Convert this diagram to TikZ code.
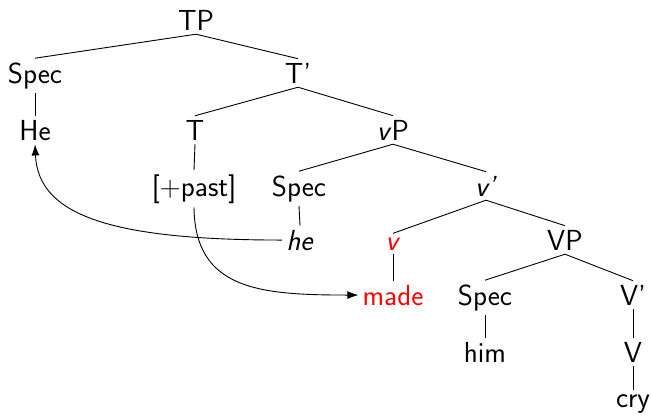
\documentclass[tikz,border=0pt]{standalone}
\usepackage{fontspec}
\usetikzlibrary{arrows.meta}
\begin{document}
\begin{tikzpicture}[x=1pt,y=-1pt,
  every node/.style={font=\fontsize{29}{34}\selectfont\sffamily, inner sep=4pt, anchor=base},
  branch/.style={line width=0.9pt},
  move/.style={line width=0.9pt, -{Latex[length=11pt,width=8pt]}},
  moved/.style={text=red}]
\useasboundingbox (0,0) rectangle (651,416);

% tree nodes, placed on their baselines
\node (TP)    at (196,30)  {TP};
\node (SpecA) at (35,83)   {Spec};
\node (Tbar)  at (298,83)  {T'};
\node (He)    at (35,140)  {He};
\node (T)     at (195,140) {T};
\node (vP)    at (393,140) {\textit{v}P};
\node (past)  at (194,196) {[+past]};
\node (SpecB) at (299,196) {Spec};
\node (vbar)  at (486,196) {\textit{v'}};
\node (he)    at (300,250) {\textit{he}};
\node[moved] (v) at (393,250) {\textit{v}};
\node (VP)    at (565,250) {VP};
\node[moved] (made) at (393,305) {made};
\node (SpecC) at (485,305) {Spec};
\node (Vbar)  at (633,305) {V'};
\node (him)   at (485,362) {him};
\node (V)     at (633,362) {V};
\node (cry)   at (633,407) {cry};

% branches
\draw[branch] (TP.south) -- (SpecA.north);
\draw[branch] (TP.south) -- (Tbar.north);
\draw[branch] (SpecA.south) -- (He.north);
\draw[branch] (Tbar.south) -- (T.north);
\draw[branch] (Tbar.south) -- (vP.north);
\draw[branch] (T.south) -- (past.north);
\draw[branch] (vP.south) -- (SpecB.north);
\draw[branch] (vP.south) -- (vbar.north);
\draw[branch] (SpecB.south) -- (he.north);
\draw[branch] (vbar.south) -- (v.north);
\draw[branch] (vbar.south) -- (VP.north);
\draw[branch] (v.south) -- (made.north);
\draw[branch] (VP.south) -- (SpecC.north);
\draw[branch] (VP.south) -- (Vbar.north);
\draw[branch] (SpecC.south) -- (him.north);
\draw[branch] (Vbar.south) -- (V.north);
\draw[branch] (V.south) -- (cry.north);

% movement arrows
\draw[move] (he.west) .. controls (110,240) and (38,215) .. (He.south);
\draw[move] (past.south) .. controls (195,290) and (260,295) .. (made.west);
\end{tikzpicture}
\end{document}
